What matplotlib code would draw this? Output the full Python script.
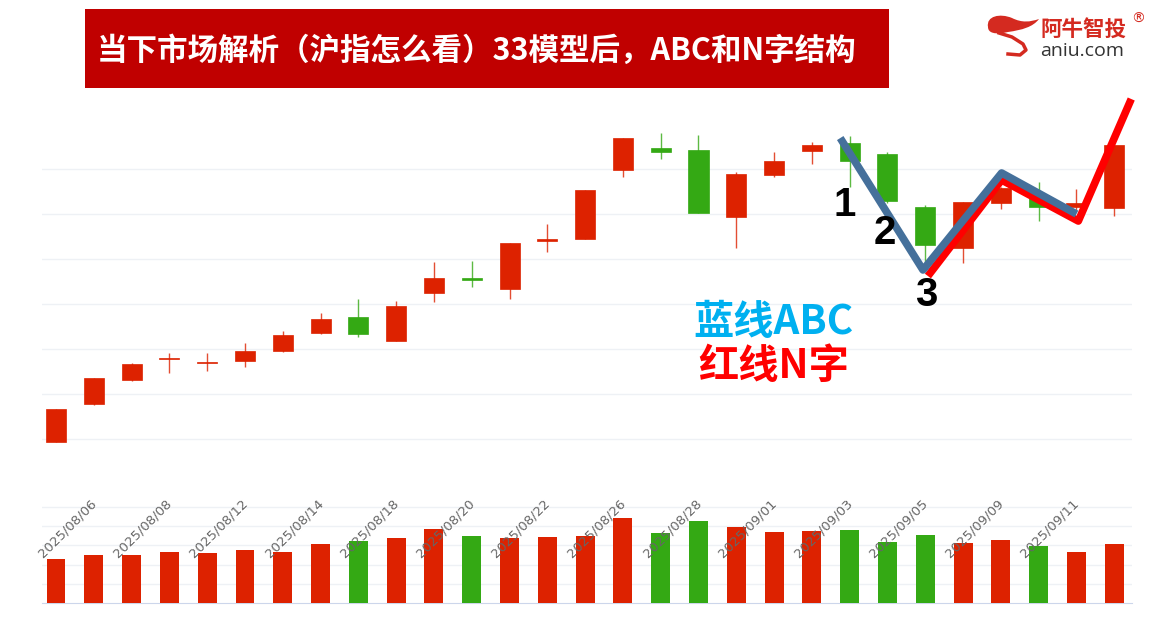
import numpy as np
import matplotlib.pyplot as plt
from matplotlib.patches import Rectangle, PathPatch
from matplotlib.path import Path

plt.rcParams['font.family'] = ['Noto Sans CJK SC', 'DejaVu Sans']

# --- datos ---
fechas = ["2025/08/06", "2025/08/07", "2025/08/08", "2025/08/11", "2025/08/12", "2025/08/13",
          "2025/08/14", "2025/08/15", "2025/08/18", "2025/08/19", "2025/08/20", "2025/08/21",
          "2025/08/22", "2025/08/25", "2025/08/26", "2025/08/27", "2025/08/28", "2025/08/29",
          "2025/09/01", "2025/09/02", "2025/09/03", "2025/09/04", "2025/09/05", "2025/09/08",
          "2025/09/09", "2025/09/10", "2025/09/11", "2025/09/12", "2025/09/15"]
apertura = [3596.7, 3638.9, 3665.6, 3688.9, 3684.4, 3686.7, 3697.8, 3717.8, 3735.6, 3708.9,
            3762.2, 3778.9, 3766.7, 3820.0, 3822.2, 3898.9, 3923.3, 3921.1, 3846.7, 3893.3,
            3920.0, 3928.9, 3916.7, 3857.8, 3812.2, 3862.2, 3871.1, 3857.8, 3856.7]
maximo = [3633.3, 3667.8, 3684.4, 3695.6, 3695.6, 3706.7, 3720.0, 3740.0, 3755.6, 3753.3,
          3796.7, 3797.8, 3817.8, 3838.9, 3876.7, 3934.4, 3940.0, 3937.8, 3896.7, 3918.9,
          3930.0, 3936.7, 3918.9, 3860.0, 3863.3, 3880.0, 3885.6, 3877.8, 3926.7]
minimo = [3596.7, 3637.8, 3664.4, 3673.3, 3675.6, 3680.0, 3696.7, 3716.7, 3713.3, 3708.9,
          3752.2, 3768.9, 3755.6, 3807.8, 3822.2, 3891.1, 3911.1, 3851.1, 3812.2, 3891.1,
          3905.6, 3880.0, 3862.2, 3787.8, 3795.6, 3855.6, 3842.2, 3853.3, 3847.8]
cierre = [3633.3, 3667.8, 3683.3, 3690.0, 3685.6, 3697.8, 3715.6, 3733.9, 3716.7, 3747.8,
          3778.9, 3776.7, 3817.8, 3821.7, 3876.7, 3934.4, 3918.9, 3851.1, 3894.4, 3908.9,
          3926.7, 3908.9, 3864.4, 3815.6, 3863.3, 3878.9, 3857.8, 3862.2, 3926.7]
volumen = [4550, 4970, 5030, 5310, 5210, 5490, 5310, 6150, 6490, 6740, 7710, 6980, 6800, 6910,
           6980, 8820, 7320, 8570, 7920, 7400, 7500, 7640, 6390, 7050, 6250, 6560, 5970, 5310, 6150]

# lineas dibujadas a mano (indice, precio)
abc_x = [20.75, 22.94, 25.02, 27.0]
abc_y = [3934.4, 3787.8, 3895.6, 3850.0]
n_x = [23.07, 25.02, 27.05, 28.45]
n_y = [3781.1, 3887.8, 3842.2, 3977.8]

ROJO = '#dd2200'
VERDE = '#34a914'
GRID = '#eef1f5'

W, H = 1167, 621
fig = plt.figure(figsize=(W / 100, H / 100), dpi=100)

def fx(px):
    return px / W

def fy(py):
    return 1 - py / H

n = len(fechas)
idx = np.arange(n)
sube = np.array(cierre) >= np.array(apertura)
colores = [ROJO if s else VERDE for s in sube]

# --- panel de precios ---
ax = fig.add_axes([fx(42), fy(450), fx(1132) - fx(42), fy(90) - fy(450)])
for i in range(n):
    c = colores[i]
    ax.vlines(idx[i], minimo[i], maximo[i], color=c, lw=1, alpha=0.8, zorder=2)
    lo = min(apertura[i], cierre[i])
    alto = max(abs(cierre[i] - apertura[i]), 1.5)
    ax.add_patch(Rectangle((idx[i] - 0.265, lo), 0.53, alto, facecolor=c, edgecolor=c,
                           lw=0.5, zorder=3))
ax.set_xlim(-0.37, 28.47)
ax.set_ylim(3587.8, 3987.8)
ax.set_yticks(np.arange(3600, 3901, 50))
ax.grid(axis='y', color=GRID, lw=1)
ax.set_axisbelow(True)
ax.tick_params(left=False, bottom=False, labelleft=False, labelbottom=False)
for s in ax.spines.values():
    s.set_visible(False)

# lineas ABC (azul) y N (rojo)
ax.plot(n_x, n_y, color='#ff0000', lw=5.5, zorder=5, clip_on=False, solid_capstyle='butt')
ax.plot(abc_x, abc_y, color='#45709b', lw=5.5, zorder=6, clip_on=False, solid_capstyle='butt')

num_font = dict(family=['Liberation Sans', 'DejaVu Sans'], fontweight='bold', fontsize=29,
                color='black', ha='center', va='center', zorder=7)
ax.text(20.88, 3860, '1', **num_font)
ax.text(21.93, 3829, '2', **num_font)
ax.text(23.02, 3760, '3', **num_font)

ax.text(18.98, 3730, '蓝线ABC', color='#00b0f0', fontsize=29, fontweight='bold',
        ha='center', va='center', zorder=7)
ax.text(18.98, 3681, '红线N字', color='#ff0000', fontsize=29, fontweight='bold',
        ha='center', va='center', zorder=7)

# --- panel de volumen ---
axv = fig.add_axes([fx(42), fy(603), fx(1132) - fx(42), fy(490) - fy(603)])
axv.bar(idx, volumen, width=0.5, color=colores, zorder=3)
axv.set_xlim(-0.37, 28.47)
axv.set_ylim(0, 11770)
axv.set_yticks(np.arange(2000, 10001, 2000))
axv.grid(axis='y', color=GRID, lw=1)
axv.set_axisbelow(True)
axv.tick_params(left=False, bottom=False, labelleft=False, labelbottom=False)
for k, s in axv.spines.items():
    s.set_visible(k == 'bottom')
axv.spines['bottom'].set_color('#ccd6eb')

for i in range(0, 27, 2):
    axv.text(i + 0.3, 7750, fechas[i], rotation=45, ha='center', va='center',
             fontsize=9.5, color='#666666', family='DejaVu Sans', zorder=4)

# --- titulo ---
fig.patches.append(Rectangle((fx(85), fy(88)), fx(889) - fx(85), fy(9) - fy(88),
                             transform=fig.transFigure, facecolor='#c00000', edgecolor='none'))
fig.text(fx(97), fy(51), '当下市场解析（沪指怎么看）33模型后，ABC和N字结构', color='white',
         fontsize=22, fontweight='heavy', ha='left', va='center')

# --- logo ---
pts = [(988, 27), (986, 16), (1000, 13), (1012, 18), (1022, 23), (1030, 22), (1039, 19),
       (1033, 27), (1022, 30), (1008, 32), (995, 35), (988, 33), (988, 27)]
codes = [Path.MOVETO] + [Path.CURVE4] * 12
verts = [(fx(x), fy(y)) for x, y in pts]
fig.patches.append(PathPatch(Path(verts, codes), transform=fig.transFigure,
                             facecolor='#d42a20', edgecolor='none'))
cola_x = [999, 1012, 1023, 1026, 1020, 1008]
cola_y = [33, 37, 44, 50, 55, 54]
fig.add_artist(plt.Line2D([fx(x) for x in cola_x], [fy(y) for y in cola_y],
                          transform=fig.transFigure, color='#d42a20', lw=2.5))
fig.text(fx(1040), fy(29), '阿牛智投', color='#d42a20', fontsize=15.5, fontweight='bold',
         ha='left', va='center')
fig.text(fx(1131), fy(19), '®', color='#d42a20', fontsize=10, ha='left', va='center',
         family='DejaVu Sans')
fig.text(fx(1040), fy(51), 'aniu.com', color='#333333', fontsize=14, ha='left', va='center',
         family='Open Sans')

fig.savefig('out.png', dpi=100)
